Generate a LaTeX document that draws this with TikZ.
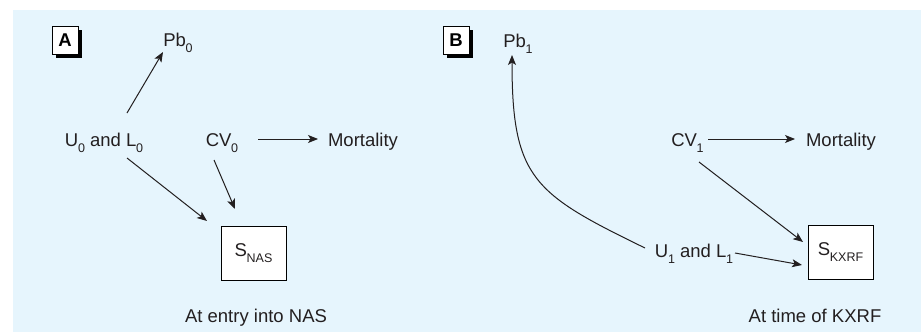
\documentclass[tikz,border=0pt]{standalone}
\usepackage{fontspec}
\setmainfont{Liberation Sans}
\usetikzlibrary{arrows.meta,shadows}
\definecolor{fundo}{RGB}{230,245,253}
\definecolor{texto}{RGB}{35,31,32}
\newcommand{\indice}[1]{\kern-0.3pt\raisebox{-6pt}{\fontsize{12.5}{13}\selectfont #1}}

\begin{document}
\begin{tikzpicture}[x=1pt,y=-1pt,
		rotulo/.style={inner sep=0pt, text height=13pt, text depth=4pt, font=\fontsize{18.5}{20}\selectfont, text=texto},
		caixa/.style={draw, fill=white, line width=1pt, minimum width=65pt, minimum height=54pt, inner sep=0pt, font=\fontsize{18.5}{20}\selectfont, text=texto},
		painel/.style={draw, fill=white, line width=0.8pt, minimum width=26pt, minimum height=28pt, inner sep=0pt, font=\fontsize{18.5}{20}\selectfont\bfseries, drop shadow={shadow xshift=4pt, shadow yshift=-4pt, fill=black, opacity=1}},
		seta/.style={-{Stealth[length=10pt,width=8pt,inset=2.5pt]}, line width=1pt, draw=texto}]
		% Fundo
		\useasboundingbox (0,0) rectangle (921,332);
		\fill[fundo] (13,10) rectangle (921,332);

		% Painel A
		\node[painel] (pA) at (65,40) {A};
		\node[rotulo] (pbA) at (178,42) {Pb\indice{0}};
		\node[rotulo] (uA) at (104,141.5) {U\indice{0} and L\indice{0}};
		\node[rotulo] (cvA) at (222,141.5) {CV\indice{0}};
		\node[rotulo] (morA) at (363,141.5) {Mortality};
		\node[caixa] (sA) at (253.5,253) {S\indice{NAS}};
		\node[rotulo] (capA) at (256,317.5) {At entry into NAS};

		% Painel B
		\node[painel] (pB) at (456,40) {B};
		\node[rotulo] (pbB) at (518,42.5) {Pb\indice{1}};
		\node[rotulo] (cvB) at (687.5,141.5) {CV\indice{1}};
		\node[rotulo] (morB) at (841,141.5) {Mortality};
		\node[rotulo] (uB) at (694,252.5) {U\indice{1} and L\indice{1}};
		\node[caixa] (sB) at (840.5,252.5) {S\indice{KXRF}};
		\node[rotulo] (capB) at (815,317.5) {At time of KXRF};

		% Setas A
		\draw[seta] ([shift={(23,-28.5)}]uA.center) -- ([shift={(-15,10)}]pbA.center);
		\draw[seta] ([shift={(23,16.5)}]uA.center) -- ([shift={(-46.5,-32)}]sA.center);
		\draw[seta] ([shift={(-8,18.5)}]cvA.center) -- ([shift={(-18.5,-44)}]sA.center);
		\draw[seta] ([shift={(36,-2.5)}]cvA.center) -- ([shift={(-45,-2.5)}]morA.center);

		% Setas B
		\draw[seta] ([shift={(20.5,-2.5)}]cvB.center) -- ([shift={(-46,-2.5)}]morB.center);
		\draw[seta] ([shift={(11.5,20.5)}]cvB.center) -- ([shift={(-37.5,-10.5)}]sB.center);
		\draw[seta] ([shift={(41,0.5)}]uB.center) -- ([shift={(-38.5,12.5)}]sB.center);
		\draw[seta] ([shift={(-49,-4.5)}]uB.center) to[out=154, in=-90, looseness=1.35] ([shift={(-6,12.5)}]pbB.center);
	\end{tikzpicture}
\end{document}
